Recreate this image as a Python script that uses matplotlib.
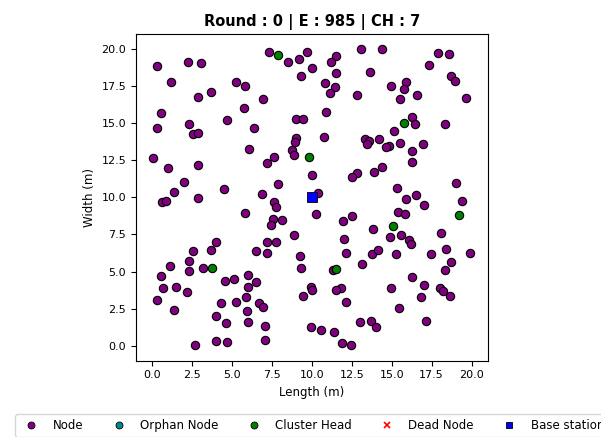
import matplotlib
matplotlib.use('Agg')
import matplotlib.pyplot as plt
from matplotlib.lines import Line2D

# node positions (m)
node_x = [7.33, 8.48, 9.19, 9.73, 0.33, 2.25, 3.08, 1.19, 5.25, 5.85, 9.31, 3.69, 2.90, 6.92, 0.58, 5.77,
          0.33, 2.29, 2.54, 2.90, 4.71, 6.38, 9.04, 9.48, 9.04, 8.98, 8.73, 8.90, 0.04, 0.98, 2.90, 6.06,
          7.17, 7.63, 2.02, 1.35, 4.50, 7.88, 6.88, 2.90, 0.63, 0.88,
          7.63, 7.75, 5.79, 7.58, 8.15, 7.46, 8.88, 4.02, 7.17, 7.75, 2.58, 3.69, 6.48, 7.17, 2.29, 1.13,
          2.29, 3.17, 9.29, 9.31, 0.54, 4.56, 5.15, 5.98, 6.48, 5.98, 0.71, 1.52, 2.17, 0.33, 5.88, 4.33,
          5.25, 6.69, 6.92, 9.46, 1.40, 5.96, 4.02, 4.63, 5.98, 7.10, 2.69, 3.98, 4.71, 7.06,
          10.40, 15.88, 16.54, 17.00, 19.39, 10.25, 11.96, 12.54, 15.39, 15.83, 13.83, 12.00, 14.88, 15.60,
          16.08, 16.23, 18.06, 18.42, 19.90, 12.13, 13.77, 14.14, 15.27, 17.48, 18.73, 18.36, 13.17, 11.33,
          16.25, 17.00, 18.00, 18.21, 18.67, 14.94, 16.83, 11.81, 11.54, 12.13, 9.98, 10.02, 15.44, 17.13,
          13.02, 13.71, 14.00, 9.98, 10.58, 11.42, 11.90, 12.48,
          11.54, 11.23, 10.02, 11.54, 13.06, 14.42, 13.65, 17.90, 18.60, 17.31, 18.73, 18.98, 10.81, 11.44,
          11.13, 12.83, 14.96, 15.88, 15.75, 16.60, 15.50, 19.67, 10.88, 16.29, 16.44, 18.36, 15.13, 10.75,
          13.31, 13.56, 13.48, 14.19, 14.83, 14.67, 15.54, 16.29, 16.96, 16.29, 10.02, 14.42, 13.88, 12.83,
          12.52, 15.36, 19.04]
node_y = [19.78, 19.13, 19.33, 19.78, 18.88, 19.15, 19.08, 17.78, 17.80, 17.53, 18.16, 17.13, 16.75, 16.61, 15.71, 16.05,
          14.70, 14.95, 14.30, 14.36, 15.20, 14.66, 15.27, 15.27, 13.98, 13.72, 13.20, 12.88, 12.63, 12.00, 12.16, 13.26,
          12.30, 12.70, 11.06, 10.36, 10.54, 10.88, 10.23, 9.94, 9.71, 9.76,
          9.67, 9.37, 8.93, 8.54, 8.48, 8.16, 7.44, 6.99, 6.99, 6.99, 6.36, 6.43, 6.36, 6.23, 5.73, 5.39,
          5.06, 5.24, 6.05, 5.26, 4.72, 4.36, 4.50, 4.75, 4.30, 3.98, 3.87, 3.94, 3.60, 3.08, 3.26, 2.86,
          2.93, 2.90, 2.63, 3.37, 2.41, 2.36, 2.02, 1.51, 1.58, 1.33, 0.05, 0.34, 0.25, 0.41,
          10.32, 9.87, 10.16, 9.47, 9.78, 8.88, 8.41, 8.75, 9.02, 8.88, 7.85, 7.17, 7.31, 7.46,
          7.13, 6.84, 7.58, 6.54, 6.23, 6.23, 6.16, 6.45, 6.16, 6.16, 5.66, 5.08, 5.53, 5.10,
          4.61, 4.09, 3.87, 3.71, 3.37, 3.89, 3.26, 3.91, 3.76, 2.95, 3.98, 3.76, 2.54, 1.69,
          1.58, 1.67, 1.28, 1.28, 1.06, 0.92, 0.16, 0.05,
          19.53, 19.11, 18.70, 18.41, 19.98, 19.98, 18.48, 19.72, 19.67, 18.90, 18.20, 17.87, 17.69, 17.42,
          17.06, 16.88, 17.53, 17.76, 17.29, 16.88, 16.61, 16.72, 15.78, 15.44, 14.93, 14.93, 14.50, 14.09,
          13.94, 13.82, 13.58, 13.92, 13.47, 13.38, 13.65, 13.15, 13.58, 12.41, 11.51, 12.07, 11.69, 11.67,
          11.40, 10.61, 10.99]

# cluster heads
ch_x = [7.88, 9.80, 3.75, 19.19, 15.06, 11.50, 15.79]
ch_y = [19.58, 12.75, 5.24, 8.79, 8.05, 5.17, 15.00]

# base station
bs_x = [10.0]
bs_y = [10.0]

round_no = 0
energy = 985

fig = plt.figure(figsize=(6.01, 4.37), dpi=100)
ax = fig.add_axes([0.2263, 0.175, 0.585, 0.7467])

ax.scatter(node_x, node_y, s=36, c='purple', edgecolors='black', linewidths=0.8, zorder=2)
ax.scatter(ch_x, ch_y, s=36, c='green', edgecolors='black', linewidths=0.8, zorder=3)
ax.scatter(bs_x, bs_y, s=42, c='blue', marker='s', edgecolors='black', linewidths=0.6, zorder=4)

ax.set_xlim(-1, 21)
ax.set_ylim(-1, 21)
ax.set_xticks([0, 2.5, 5, 7.5, 10, 12.5, 15, 17.5, 20])
ax.set_yticks([0, 2.5, 5, 7.5, 10, 12.5, 15, 17.5, 20])
ax.tick_params(labelsize=8)
ax.set_xlabel('Length (m)', fontsize=8.5)
ax.set_ylabel('Width (m)', fontsize=8.5)
ax.set_title(f'Round : {round_no} | E : {energy} | CH : {len(ch_x)}', fontsize=10.5, fontweight='bold')

handles = [
    Line2D([], [], marker='o', ls='', markersize=5, markerfacecolor='purple', markeredgecolor='black', markeredgewidth=0.6),
    Line2D([], [], marker='o', ls='', markersize=5, markerfacecolor='darkcyan', markeredgecolor='black', markeredgewidth=0.6),
    Line2D([], [], marker='o', ls='', markersize=5, markerfacecolor='green', markeredgecolor='black', markeredgewidth=0.6),
    Line2D([], [], marker='x', ls='', markersize=5, color='red', markeredgewidth=1.2),
    Line2D([], [], marker='s', ls='', markersize=5, markerfacecolor='blue', markeredgecolor='black', markeredgewidth=0.6),
]
labels = ['Node', 'Orphan Node', 'Cluster Head', 'Dead Node', 'Base station']
ax.legend(handles, labels, loc='upper center', bbox_to_anchor=(0.5, -0.147), ncol=5, fontsize=8.5)

fig.savefig('out.png', dpi=100)
